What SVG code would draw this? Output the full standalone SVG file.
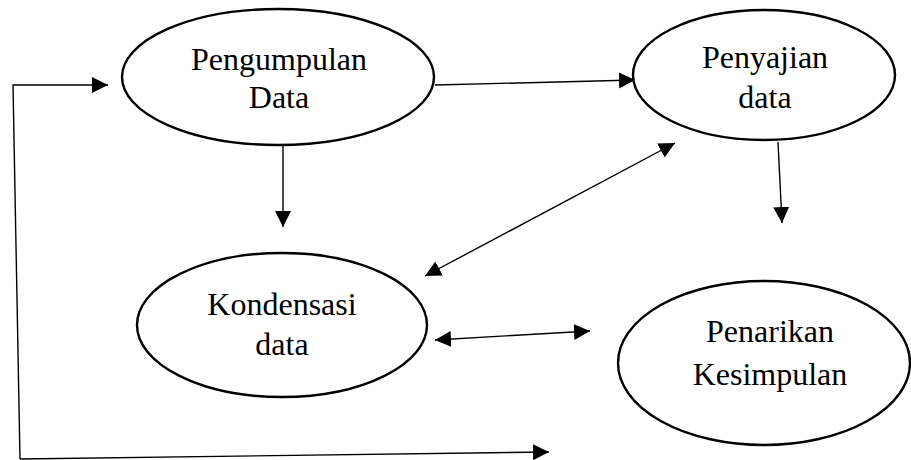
<svg xmlns="http://www.w3.org/2000/svg" width="911" height="460" viewBox="0 0 911 460">
<defs>
<marker id="ah" markerUnits="userSpaceOnUse" markerWidth="18" markerHeight="18" viewBox="0 0 18 18" refX="16" refY="9" orient="auto-start-reverse">
<path d="M0,1 L16,9 L0,17 Z" fill="#000"/>
</marker>
<style>
.node ellipse{fill:#fff;stroke:#000;stroke-width:2.4}
.node text{font-family:"Liberation Serif","Times New Roman",serif;font-size:32px;fill:#000;text-anchor:middle}
#connectors path{fill:none;stroke:#000;stroke-width:1.4}
</style>
</defs>
<rect width="911" height="460" fill="#fff"/>
<g id="connectors">
<path d="M435,85 L635,80" marker-end="url(#ah)"/>
<path d="M283,145 L283,227" marker-end="url(#ah)"/>
<path d="M778,142 L782,223" marker-end="url(#ah)"/>
<path d="M425,276 L675,143" marker-start="url(#ah)" marker-end="url(#ah)"/>
<path d="M435,340 L590,331" marker-start="url(#ah)" marker-end="url(#ah)"/>
<path d="M20,459 L13,85 L108,85" marker-end="url(#ah)"/>
<path d="M20,459 L549,452" marker-end="url(#ah)"/>
</g>
<g id="pengumpulan" class="node">
<ellipse cx="278" cy="77" rx="156" ry="68"/>
<text x="279" y="70" font-family="Liberation Serif, serif">Pengumpulan</text>
<text x="279" y="108" font-family="Liberation Serif, serif">Data</text>
</g>
<g id="penyajian" class="node">
<ellipse cx="764" cy="75" rx="131" ry="65"/>
<text x="765" y="68" font-family="Liberation Serif, serif">Penyajian</text>
<text x="765" y="108" font-family="Liberation Serif, serif">data</text>
</g>
<g id="kondensasi" class="node">
<ellipse cx="282" cy="325" rx="145" ry="72"/>
<text x="282" y="315" font-family="Liberation Serif, serif">Kondensasi</text>
<text x="282" y="355" font-family="Liberation Serif, serif">data</text>
</g>
<g id="penarikan" class="node">
<ellipse cx="764" cy="363" rx="146" ry="82"/>
<text x="770" y="342" font-family="Liberation Serif, serif">Penarikan</text>
<text x="770" y="385" font-family="Liberation Serif, serif">Kesimpulan</text>
</g>
</svg>
